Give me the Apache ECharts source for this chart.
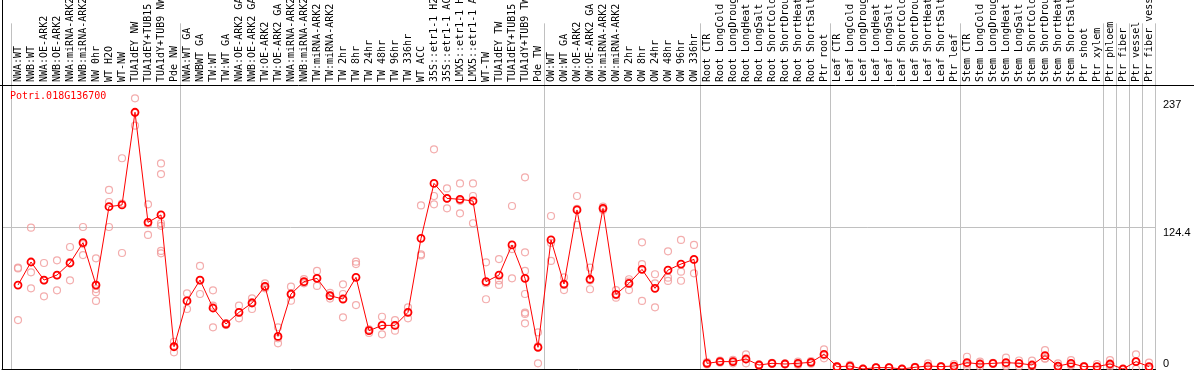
<!DOCTYPE html>
<html><head><meta charset="utf-8">
<script src="https://cdn.jsdelivr.net/npm/echarts@6/dist/echarts.min.js"></script>
<style>html,body{margin:0;padding:0;background:#fff}#c{width:1194px;height:370px}</style>
</head><body><div id="c"></div>
<script>
const chartTitle = 'Potri.018G136700';
const categories = [
 'NWA:WT','NWB:WT','NWA:OE-ARK2','NWB:OE-ARK2','NWA:miRNA-ARK2','NWB:miRNA-ARK2','NW 0hr','WT H2O','WT-NW','TUA1dEY NW',
 'TUA1dEY+TUB15 NW','TUA1dY+TUB9 NW','Pde NW','NWA:WT GA','NWBWT GA','TW:WT','TW:WT GA','NWA:OE-ARK2 GA','NWB:OE-ARK2 GA','TW:OE-ARK2',
 'TW:OE-ARK2 GA','NWA:miRNA-ARK2','NWB:miRNA-ARK2','TW:miRNA-ARK2','TW:miRNA-ARK2','TW 2hr','TW 8hr','TW 24hr','TW 48hr','TW 96hr',
 'TW 336hr','WT ACC','35S::etr1-1 H2O','35S::etr1-1 ACC','LMX5::etr1-1 H2O','LMX5::etr1-1 ACC','WT-TW','TUA1dEY TW','TUA1dEY+TUB15 TW','TUA1dY+TUB9 TW',
 'Pde TW','OW:WT','OW:WT GA','OW:OE-ARK2','OW:OE-ARK2 GA','OW:miRNA-ARK2','OW:miRNA-ARK2','OW 2hr','OW 8hr','OW 24hr',
 'OW 48hr','OW 96hr','OW 336hr','Root CTR','Root LongCold','Root LongDrought','Root LongHeat','Root LongSalt','Root ShortCold','Root ShortDrought',
 'Root ShortHeat','Root ShortSalt','Ptr root','Leaf CTR','Leaf LongCold','Leaf LongDrought','Leaf LongHeat','Leaf LongSalt','Leaf ShortCold','Leaf ShortDrought',
 'Leaf ShortHeat','Leaf ShortSalt','Ptr leaf','Stem CTR','Stem LongCold','Stem LongDrought','Stem LongHeat','Stem LongSalt','Stem ShortCold','Stem ShortDrought',
 'Stem ShortHeat','Stem ShortSalt','Ptr shoot','Ptr xylem','Ptr phloem','Ptr fiber','Ptr vessel','Ptr fiber vessel'
];
const means = [
 73.9,94.2,78.3,82.7,93.3,111.2,73.9,142.9,144.4,226,
 129.1,135.6,19.6,59.9,78.3,53.7,39.6,49.9,58.1,72.8,
 28.7,66,76.9,79.8,64.5,61.6,80.7,33.7,38.4,38.4,
 49.9,115,163.4,150.2,149.4,147.9,76.9,82.7,109.2,79.8,
 19.1,113.6,74.8,140,79,141.4,65.7,75.4,87.7,71,
 87.1,92.4,96.5,5,6.5,6.5,8.8,3.5,5,4.4,
 5,5.9,12.9,2,2.6,0,1.2,1.2,0,1.5,
 2.6,2.1,2.6,5.6,4.4,5,5.6,5,3.5,11.7,
 2.6,5,2.1,2.1,4.4,0,6.5,2.1
];
const replicates = [
 [89.2,88.5,43.1],[124.4,85.1,71],[93.3,78,64],[95.7,82.5,69.3],[107.4,94,78.1],
 [125,110,100.3],[97.4,74,70.4,67.5,59.9],[157.6,147,125],[185.5,145.6,102.1],[238.3,225.5,214.2],
 [145,127.4,118],[181,171.6,128.3,126,103.9,101.8],[24,20,14.7],[66.6,60,52.8],[90.7,78,66],
 [69.3,55.7,36.7],[40.5,39.6,38.8],[55.7,49.5,44.6],[62.2,59,52.8],[75.4,72,71],
 [36.7,27,22.6],[72.5,65.5,60.1],[79.2,76,75.4],[86.3,80,73.1],[67,64.5,62],
 [74.5,66,45.5],[94.5,92.4,56.3],[35,34,31.8],[46,38.5,30.5],[43.1,38.5,33.7],
 [54.3,50,44.6],[144,101,100],[193.4,152.3,145],[159,150,141.4],[163.4,148,137],
 [163.4,152.3,128.3],[93.9,75.5,61.4],[96.8,78,74],[143.5,105.6,79.8],[168.7,102.7,86.3,66,49.7,48.5,40.2],
 [32.3,20,5],[134.7,111,95.1],[80.7,74,69.5],[152.3,141,126.8],[89.2,78,70.2],
 [143,141.4,140],[69.5,65,62.8],[79,77,69.5],[111.5,92.4,59.9],[83.4,75.4,54.3],
 [103.6,80.4,77.5],[113.6,85.7,77.7],[109.2,96,84.2],[6,5,4],[7.5,6.5,5.5],
 [8,6.5,5],[12.9,8.5,5],[4,3.5,3],[5.5,5,4.5],[5,4.4,4],
 [6.5,5,3.5],[7,6,4.7],[17.3,12,9.4],[2.5,2,1.5],[3.6,2.6,1.6],
 [0.3,0,0],[1.5,1.2,0.9],[1.5,1.2,0.9],[0.2,0,0],[2,1.5,1],
 [5,2,0.8],[2.5,2.1,1.7],[4.4,2.4,1],[10.8,4,2],[6.5,4.6,2.1],
 [5.5,5,4.5],[10,4.2,2.6],[7.5,5,2.5],[7.3,2,1.2],[16.7,9.3,9.1],
 [5,2,0.8],[7.9,4,3],[2.5,2.1,1.7],[4.4,2,0],[7.9,3.2,2.1],
 [0,0,0],[12.9,6.6,0],[5.6,0.7,0]
];
const yTickLabels = [124.4, 237];
const yMinLabel = [0];
const yGridValues = [124.4];
const yMax = 250;
const groupStarts = [0, 13, 41, 53, 63, 73, 84, 85, 86, 87];

const gridLine = {color: '#c0c0c0', width: 1};
const splitFn = (idx) => groupStarts.indexOf(idx) >= 0;
const scatterData = [];
replicates.forEach((arr, i) => arr.forEach(v => scatterData.push([i, v])));

const chart = echarts.init(document.getElementById('c'), null, {renderer: 'canvas'});
chart.setOption({
  animation: false,
  backgroundColor: '#fff',
  title: {text: chartTitle, left: 10, top: 91, padding: 0,
    textStyle: {color: '#ff0000', fontFamily: 'DejaVu Sans Mono', fontSize: 10, fontWeight: 'normal'}},
  grid: [
    {left: 11.5, right: 38.5, top: 0, height: 85},
    {left: 11.5, right: 38.5, top: 85, bottom: 1},
    {left: 2, right: 38.5, top: 85, bottom: 1}
  ],
  xAxis: [
    {gridIndex: 0, type: 'category', data: categories, position: 'bottom',
     axisLine: {show: false}, axisTick: {show: false},
     axisLabel: {inside: true, rotate: 90, interval: 0, margin: 3, color: '#000',
       fontFamily: 'DejaVu Sans Mono', fontSize: 10},
     splitLine: {show: true, interval: splitFn, lineStyle: gridLine}},
    {gridIndex: 1, type: 'category', data: categories,
     axisLine: {show: false}, axisTick: {show: false}, axisLabel: {show: false},
     splitLine: {show: true, interval: splitFn, lineStyle: gridLine}},
    {gridIndex: 2, type: 'value', min: 0, max: 1, position: 'bottom',
     axisLine: {show: true, lineStyle: {color: '#000', width: 1}},
     axisTick: {show: false}, axisLabel: {show: false}, splitLine: {show: false}}
  ],
  yAxis: [
    {gridIndex: 0, type: 'value', min: 0, max: 1, show: false},
    {gridIndex: 1, type: 'value', min: 0, max: yMax, show: false},
    {gridIndex: 2, type: 'value', min: 0, max: yMax, position: 'right',
     axisLine: {show: false}, axisTick: {show: false, customValues: yGridValues},
     axisLabel: {customValues: yTickLabels, verticalAlign: 'top', margin: 7.5, color: '#000',
       fontFamily: 'Liberation Sans', fontSize: 11},
     splitLine: {show: true, lineStyle: gridLine}},
    {gridIndex: 2, type: 'value', min: 0, max: yMax, position: 'right',
     axisLine: {show: false}, axisTick: {show: false, customValues: yMinLabel},
     axisLabel: {customValues: yMinLabel, verticalAlign: 'bottom', margin: 7.5, color: '#000',
       fontFamily: 'Liberation Sans', fontSize: 11},
     splitLine: {show: false}}
  ],
  graphic: [
    {type: 'line', z: 100, shape: {x1: 2.5, y1: 0, x2: 2.5, y2: 370}, style: {stroke: '#000', lineWidth: 1}},
    {type: 'line', z: 100, shape: {x1: 0, y1: 85.5, x2: 1194, y2: 85.5}, style: {stroke: '#000', lineWidth: 1}}
  ],
  series: [
    {type: 'scatter', xAxisIndex: 1, yAxisIndex: 1, data: scatterData, z: 2,
     symbol: 'circle', symbolSize: 7, clip: false,
     itemStyle: {color: 'rgba(0,0,0,0)', borderColor: '#f09898', borderWidth: 1.2}},
    {type: 'line', xAxisIndex: 1, yAxisIndex: 1, data: means, z: 3,
     symbol: 'circle', symbolSize: 7, showAllSymbol: true, clip: false,
     lineStyle: {color: '#ff0000', width: 1},
     itemStyle: {color: 'rgba(0,0,0,0)', borderColor: '#ff0000', borderWidth: 1.8}}
  ]
});
</script></body></html>
